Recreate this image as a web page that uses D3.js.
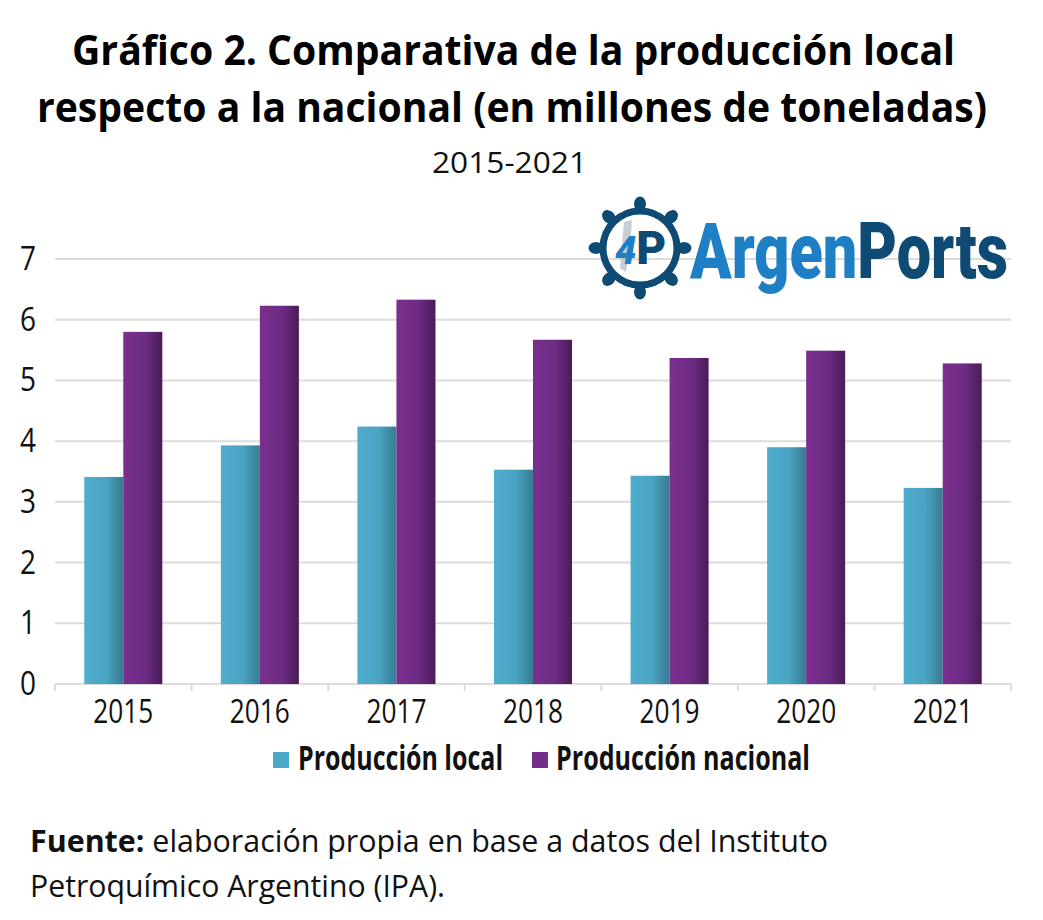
<!DOCTYPE html>
<html><head><meta charset="utf-8">
<script src="https://cdn.jsdelivr.net/npm/d3@7"></script>
<style>html,body{margin:0;padding:0;background:#fff;} svg{display:block;}</style>
</head><body>
<svg id="chart" width="1043" height="920"></svg>
<script>
const years = ["2015","2016","2017","2018","2019","2020","2021"];
const seriesNames = ["Producción local","Producción nacional"];
const localValues = [3.41, 3.93, 4.24, 3.53, 3.43, 3.90, 3.23];
const nacionalValues = [5.80, 6.23, 6.33, 5.67, 5.37, 5.49, 5.28];
const yTicks = [0,1,2,3,4,5,6,7];
const titleLines = ["Gráfico 2. Comparativa de la producción local","respecto a la nacional (en millones de toneladas)"];
const subtitle = "2015-2021";

(function(){
const svg = d3.select("#chart");
const FONT = "'Open Sans', 'Noto Sans', sans-serif";
const pLeft = 55, pRight = 1011, pTop = 259, pBottom = 684;

const defs = svg.append("defs");
const g1 = defs.append("linearGradient").attr("id","gLocal").attr("x1","0").attr("x2","1").attr("y1","0").attr("y2","0");
[[0,"#4fadcd"],[0.55,"#4aa4c3"],[1,"#367b90"]].forEach(s=>g1.append("stop").attr("offset",s[0]).attr("stop-color",s[1]));
const g2 = defs.append("linearGradient").attr("id","gNac").attr("x1","0").attr("x2","1").attr("y1","0").attr("y2","0");
[[0,"#7a2f8d"],[0.55,"#6d2c85"],[1,"#4a1b58"]].forEach(s=>g2.append("stop").attr("offset",s[0]).attr("stop-color",s[1]));

const x0 = d3.scaleBand().domain(years).range([pLeft,pRight]).paddingInner(0).paddingOuter(0);
const x1 = d3.scaleBand().domain(seriesNames).range([0,x0.bandwidth()]).paddingInner(0).paddingOuter(0.75);
const y = d3.scaleLinear().domain([0,7]).range([pBottom,pTop]);

function tallText(x, yy, w, sy, size, weight, anchor){
  const g = svg.append("g").attr("transform",`translate(${x},${yy}) scale(1,${sy})`);
  const t = g.append("text").attr("x",0).attr("y",0).attr("font-family",FONT).attr("font-size",size)
    .attr("font-weight",weight).attr("fill","#111").attr("text-anchor",anchor||"start");
  if (w) t.attr("textLength",w).attr("lengthAdjust","spacingAndGlyphs");
  return t;
}
tallText(72,65,883,1.1,38,700).attr("fill","#000").text(titleLines[0]);
tallText(37,122,950,1.1,38,700).attr("fill","#000").text(titleLines[1]);
tallText(432,173,155,1.1,27,400).text(subtitle);

// Gridlines
svg.append("g").selectAll("line").data(yTicks).join("line")
  .attr("x1",pLeft).attr("x2",pRight).attr("y1",d=>y(d)).attr("y2",d=>y(d))
  .attr("stroke","#dcdcdc").attr("stroke-width",2);

// Category tick marks
svg.append("g").selectAll("line").data(years.concat(["end"])).join("line")
  .attr("x1",(d,i)=>pLeft + i*x0.step()).attr("x2",(d,i)=>pLeft + i*x0.step())
  .attr("y1",pBottom).attr("y2",pBottom+7).attr("stroke","#dcdcdc").attr("stroke-width",2);

// Y labels
yTicks.forEach(d=>{ tallText(28, y(d)+11, null, 1.15, 28, 400, "middle").text(d); });

// X labels
years.forEach(d=>{ tallText(x0(d)+x0.bandwidth()/2, 723, null, 1.15, 28, 400, "middle")
  .attr("textLength",60).attr("lengthAdjust","spacingAndGlyphs").attr("x",-30).attr("text-anchor","start").text(d); });

// Logo
const logo = svg.append("g");
const cx = 640, cy = 248;
logo.append("circle").attr("cx",cx).attr("cy",cy).attr("r",37).attr("fill","none").attr("stroke","#0e4a73").attr("stroke-width",7);
d3.range(8).forEach(i=>{
  const a = i*Math.PI/4;
  const ex = cx+44*Math.cos(a), ey = cy+44*Math.sin(a);
  logo.append("ellipse").attr("cx",ex).attr("cy",ey).attr("rx",7.5).attr("ry",6)
    .attr("transform",`rotate(${i*45},${ex},${ey})`).attr("fill","#0e4a73");
});
logo.append("path").attr("d",`M${cx-16},${cy-26} L${cx-8},${cy-28} L${cx-10},${cy} L${cx-14},${cy+24} L${cx-20},${cy+20} Z`).attr("fill","#b9c2cc").attr("opacity",0.8);
const mono = logo.append("text").attr("x",cx-25).attr("y",cy+16).attr("font-family","Roboto, sans-serif").attr("font-weight",900);
mono.append("tspan").attr("font-style","italic").attr("font-size",38).attr("fill","#1f7fc4").text("4");
mono.append("tspan").attr("font-size",46).attr("fill","#0e4a73").text("P");
const bg = logo.append("g").attr("transform","translate(690,278) scale(1,1.3)");
const brand = bg.append("text").attr("x",0).attr("y",0).attr("font-family","Roboto, sans-serif").attr("font-weight",900).attr("font-size",60)
  .attr("textLength",318).attr("lengthAdjust","spacingAndGlyphs");
brand.append("tspan").attr("fill","#1f7fc4").text("Argen");
brand.append("tspan").attr("fill","#0e4a73").text("Ports");

// Bars
const rows = years.map((yr,i)=>({year:yr, values:[{k:seriesNames[0],v:localValues[i]},{k:seriesNames[1],v:nacionalValues[i]}]}));
const fills = {[seriesNames[0]]:"url(#gLocal)", [seriesNames[1]]:"url(#gNac)"};
svg.append("g").selectAll("g").data(rows).join("g")
  .attr("transform",d=>`translate(${x0(d.year)},0)`)
  .selectAll("rect").data(d=>d.values).join("rect")
  .attr("x",d=>x1(d.k)).attr("width",x1.bandwidth())
  .attr("y",d=>y(d.v)).attr("height",d=>y(0)-y(d.v))
  .attr("fill",d=>fills[d.k]);

// Legend
const legendColors = ["#4ba9c8","#722e8a"];
const legendPos = [{sx:273,tx:298,w:205},{sx:532,tx:556,w:254}];
seriesNames.forEach((s,i)=>{
  svg.append("rect").attr("x",legendPos[i].sx).attr("y",752).attr("width",16).attr("height",16).attr("fill",legendColors[i]);
  tallText(legendPos[i].tx, 770, legendPos[i].w, 1.15, 29, 700).text(s);
});

// Footer
const f1 = tallText(30, 852, 798, 1.08, 28, 400);
f1.append("tspan").attr("font-weight",700).text("Fuente:");
f1.append("tspan").attr("font-weight",400).text(" elaboración propia en base a datos del Instituto");
tallText(30, 897, 415, 1.08, 28, 400).text("Petroquímico Argentino (IPA).");
})();
</script>
</body></html>
